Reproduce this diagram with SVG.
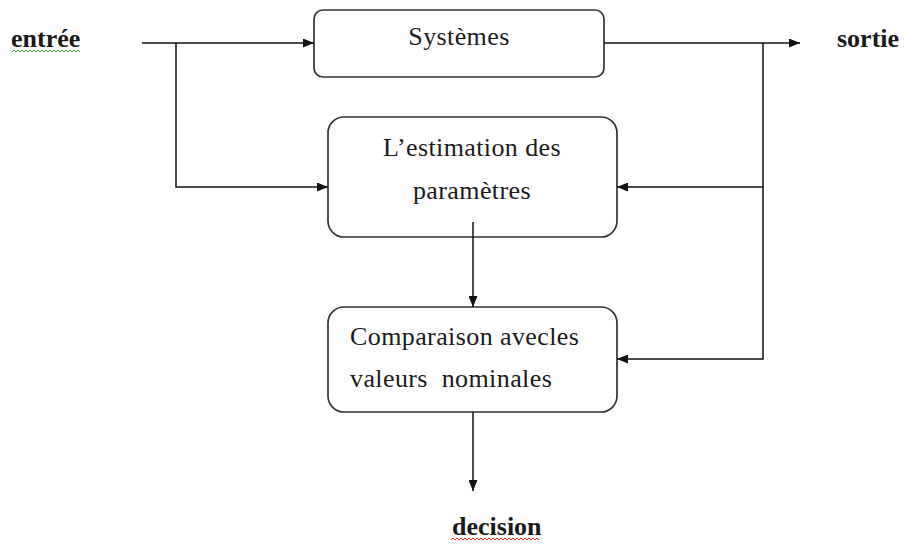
<svg xmlns="http://www.w3.org/2000/svg" width="904" height="544" viewBox="0 0 904 544">
  <style>
    .box { fill: #fff; stroke: #333; stroke-width: 1.7; }
    .wire { fill: none; stroke: #111; stroke-width: 1.5; }
    .lbl { font-family: "Liberation Serif", "Times New Roman", serif; font-size: 26px; letter-spacing: 0.4px; fill: #1a1a1a; white-space: pre; }
    .io { font-family: "Liberation Serif", "Times New Roman", serif; font-size: 26px; font-weight: bold; fill: #1a1a1a; }
    .squig { fill: none; stroke-width: 1; }
  </style>
  <defs>
    <marker id="arr" markerWidth="11" markerHeight="9" refX="11" refY="4.5" orient="auto" markerUnits="userSpaceOnUse">
      <path d="M0,0 L11,4.5 L0,9 Z" fill="#111"/>
    </marker>
  </defs>

  <rect width="904" height="544" fill="#fff"/>

  <!-- nodes -->
  <g id="entree">
    <text class="io" x="11" y="47">entrée</text>
    <path class="squig" stroke="#3a9a3a" d="M12,52 l2,-2 l2,2 l2,-2 l2,2 l2,-2 l2,2 l2,-2 l2,2 l2,-2 l2,2 l2,-2 l2,2 l2,-2 l2,2 l2,-2 l2,2 l2,-2 l2,2 l2,-2 l2,2 l2,-2 l2,2 l2,-2 l2,2 l2,-2 l2,2 l2,-2 l2,2 l2,-2 l2,2 l2,-2 l2,2 l2,-2 l2,2"/>
  </g>

  <g id="systemes">
    <rect class="box" x="314" y="10" width="290" height="67" rx="9"/>
    <text class="lbl" x="459" y="45" text-anchor="middle">Systèmes</text>
  </g>

  <g id="sortie">
    <text class="io" x="837" y="47">sortie</text>
  </g>

  <g id="estimation">
    <rect class="box" x="328" y="117" width="289" height="120" rx="16"/>
    <text class="lbl" x="472" y="156" text-anchor="middle">L’estimation des</text>
    <text class="lbl" x="472" y="199" text-anchor="middle">paramètres</text>
  </g>

  <g id="comparaison">
    <rect class="box" x="328" y="307" width="289" height="105" rx="16"/>
    <text class="lbl" x="350" y="345">Comparaison avecles</text>
    <text class="lbl" x="350" y="387" xml:space="preserve">valeurs  nominales</text>
  </g>

  <g id="decision">
    <text class="io" x="452" y="535">decision</text>
    <path class="squig" stroke="#e03030" d="M451,540 l2,-2 l2,2 l2,-2 l2,2 l2,-2 l2,2 l2,-2 l2,2 l2,-2 l2,2 l2,-2 l2,2 l2,-2 l2,2 l2,-2 l2,2 l2,-2 l2,2 l2,-2 l2,2 l2,-2 l2,2 l2,-2 l2,2 l2,-2 l2,2 l2,-2 l2,2 l2,-2 l2,2 l2,-2 l2,2 l2,-2 l2,2 l2,-2 l2,2 l2,-2 l2,2 l2,-2 l2,2 l2,-2 l2,2 l2,-2 l2,2"/>
  </g>

  <!-- connectors (drawn last so the stub inside the estimation box shows) -->
  <g id="connectors">
    <path class="wire" d="M142,43 H314" marker-end="url(#arr)"/>
    <path class="wire" d="M176,43 V187 H328" marker-end="url(#arr)"/>
    <path class="wire" d="M604,43 H800" marker-end="url(#arr)"/>
    <path class="wire" d="M763,43 V187 H617" marker-end="url(#arr)"/>
    <path class="wire" d="M763,187 V359 H617" marker-end="url(#arr)"/>
    <path class="wire" d="M473,222 V307" marker-end="url(#arr)"/>
    <path class="wire" d="M473,412 V491" marker-end="url(#arr)"/>
  </g>
</svg>
